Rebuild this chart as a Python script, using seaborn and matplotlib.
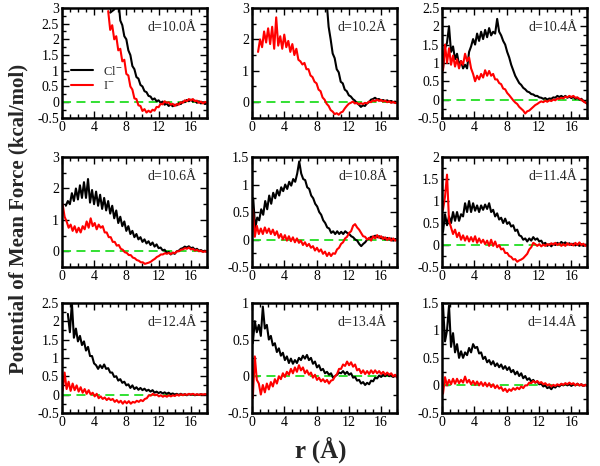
import numpy as np
import matplotlib
matplotlib.use("Agg")
import matplotlib.pyplot as plt
from matplotlib.ticker import MultipleLocator
import seaborn as sns

# PMF curves (kcal/mol), sampled every 0.25 A from the start value up to 18 A
cl_100_start = 6.0
cl_100 = [2.85, 2.9, 2.95, 3.1, 3.3, 2.6, 2.45, 2.1, 2.0, 1.65, 1.5, 1.15, 1.05, 0.8, 0.75, 0.55, 0.5,
          0.35, 0.32, 0.2, 0.18, 0.08, 0.12, 0.03, 0.06, -0.02, 0.02, -0.08, -0.04, -0.12, -0.07, -0.13,
          -0.08, -0.1, -0.03, -0.06, 0.02, 0.0, 0.07, 0.03, 0.08, 0.02, 0.05, -0.02, 0.03, -0.04, 0.0,
          -0.06, -0.03]
i_100_start = 5.75
i_100 = [2.9, 2.3, 2.45, 2.0, 2.1, 1.65, 1.7, 1.3, 1.35, 0.9, 0.85, 0.5, 0.4, 0.12, 0.1, -0.1, -0.12,
         -0.28, -0.22, -0.33, -0.27, -0.32, -0.24, -0.27, -0.15, -0.16, -0.05, -0.07, 0.03, -0.02, 0.0,
         -0.08, -0.05, -0.12, -0.06, -0.08, 0.0, -0.02, 0.06, 0.03, 0.1, 0.06, 0.1, 0.03, 0.05, -0.02,
         0.02, -0.04, 0.01, -0.02]

cl_102_start = 9.0
cl_102 = [3.5, 3.2, 2.4, 2.0, 1.55, 1.4, 1.05, 0.95, 0.65, 0.6, 0.4, 0.35, 0.22, 0.18, 0.1, 0.05, -0.03,
          -0.08, -0.15, -0.1, -0.12, -0.04, 0.0, 0.08, 0.1, 0.14, 0.09, 0.1, 0.05, 0.07, 0.03, 0.06, 0.02,
          0.04, 0.0, 0.02, -0.02]
i_102_start = 0.75
i_102 = [1.6, 2.0, 1.75, 2.25, 1.9, 2.35, 1.85, 2.4, 1.7, 2.7, 1.8, 2.1, 1.7, 2.15, 1.75, 1.95, 1.6,
         1.85, 1.5, 1.7, 1.35, 1.3, 1.2, 1.25, 1.05, 1.05, 0.85, 0.8, 0.65, 0.6, 0.4, 0.35, 0.15, 0.08,
         -0.05, -0.12, -0.25, -0.3, -0.38, -0.35, -0.4, -0.33, -0.3, -0.2, -0.12, -0.05, -0.02, 0.02,
         -0.04, -0.02, -0.07, -0.03, -0.06, -0.02, -0.04, 0.02, 0.0, 0.06, 0.03, 0.08, 0.04, 0.07, 0.02,
         0.05, 0.0, 0.03, -0.02, 0.01, -0.03, -0.01]

cl_104_start = 0.1
cl_104 = [0.85, 1.4, 1.55, 2.0, 1.3, 1.45, 1.1, 1.25, 0.95, 1.05, 0.85, 0.95, 0.85, 1.3, 1.45, 1.65,
          1.5, 1.8, 1.6, 1.85, 1.65, 1.9, 1.7, 1.95, 1.75, 1.85, 1.8, 2.2, 1.85, 1.75, 1.6, 1.5, 1.3,
          1.15, 0.95, 0.8, 0.65, 0.55, 0.45, 0.4, 0.32, 0.28, 0.22, 0.2, 0.15, 0.14, 0.1, 0.1, 0.06,
          0.05, 0.02, 0.04, 0.0, 0.03, 0.02, 0.06, 0.05, 0.1, 0.07, 0.1, 0.06, 0.1, 0.05, 0.08, 0.04,
          0.07, 0.02, 0.05, 0.0, 0.02, -0.04, -0.08, -0.1]
i_104_start = 0.1
i_104 = [0.8, 1.5, 1.0, 1.4, 0.95, 1.2, 0.9, 1.1, 0.85, 1.05, 0.95, 1.25, 1.05, 1.15, 0.85, 0.7, 0.5,
         0.65, 0.55, 0.7, 0.6, 0.8, 0.65, 0.78, 0.65, 0.7, 0.55, 0.55, 0.45, 0.42, 0.3, 0.28, 0.18,
         0.12, 0.05, -0.02, -0.08, -0.12, -0.2, -0.25, -0.3, -0.38, -0.32, -0.3, -0.25, -0.2, -0.15,
         -0.12, -0.08, -0.05, -0.07, -0.03, -0.06, -0.02, -0.04, 0.0, -0.02, 0.03, 0.02, 0.05, 0.03,
         0.08, 0.06, 0.1, 0.07, 0.1, 0.05, 0.06, 0.02, 0.0, -0.05, -0.08, -0.12]

cl_106_start = 0.5
cl_106 = [1.45, 1.6, 1.5, 1.85, 1.6, 2.0, 1.65, 2.1, 1.7, 2.2, 1.7, 2.3, 1.55, 1.95, 1.5, 1.9, 1.45,
          1.8, 1.35, 1.7, 1.3, 1.6, 1.2, 1.45, 1.05, 1.3, 0.9, 1.1, 0.8, 0.95, 0.65, 0.8, 0.55, 0.65,
          0.45, 0.55, 0.38, 0.45, 0.3, 0.38, 0.25, 0.32, 0.2, 0.28, 0.15, 0.22, 0.1, 0.12, 0.03, 0.05,
          -0.05, -0.02, -0.1, -0.05, -0.08, 0.0, 0.02, 0.08, 0.1, 0.15, 0.12, 0.16, 0.1, 0.12, 0.05,
          0.08, 0.02, 0.04, 0.0, 0.02, -0.02]
i_106_start = 0.1
i_106 = [1.5, 1.1, 0.95, 0.75, 0.85, 0.65, 0.8, 0.6, 0.75, 0.6, 0.8, 0.7, 0.95, 0.75, 1.05, 0.8, 0.9,
         0.7, 0.85, 0.75, 0.8, 0.6, 0.6, 0.45, 0.45, 0.3, 0.3, 0.18, 0.2, 0.08, 0.05, -0.03, -0.05,
         -0.12, -0.12, -0.2, -0.22, -0.28, -0.3, -0.35, -0.35, -0.4, -0.38, -0.36, -0.33, -0.28, -0.24,
         -0.18, -0.15, -0.1, -0.1, -0.06, -0.08, -0.05, -0.09, -0.04, -0.06, 0.0, 0.0, 0.05, 0.06, 0.1,
         0.08, 0.12, 0.06, 0.08, 0.02, 0.05, 0.0, 0.02, -0.02, 0.0, -0.02]

cl_108_start = 0.15
cl_108 = [0.75, 0.2, 0.4, 0.35, 0.55, 0.45, 0.7, 0.55, 0.8, 0.65, 0.85, 0.75, 0.9, 0.8, 0.95, 0.88,
          1.0, 0.92, 1.05, 0.98, 1.1, 1.05, 1.2, 1.42, 1.2, 1.1, 1.08, 0.95, 0.92, 0.8, 0.75, 0.65, 0.6,
          0.5, 0.45, 0.35, 0.3, 0.22, 0.2, 0.12, 0.15, 0.1, 0.15, 0.1, 0.14, 0.1, 0.15, 0.12, 0.1, 0.06,
          0.04, 0.0, -0.02, -0.08, -0.12, -0.08, -0.05, 0.0, 0.02, 0.05, 0.04, 0.07, 0.04, 0.06, 0.02,
          0.04, 0.0, 0.03, 0.0, 0.02, -0.02, 0.01, -0.01]
i_108_start = 0.1
i_108 = [0.55, 0.05, 0.25, 0.1, 0.2, 0.1, 0.22, 0.12, 0.2, 0.1, 0.18, 0.08, 0.15, 0.03, 0.1, 0.0,
         0.08, -0.02, 0.06, -0.03, 0.04, -0.05, 0.02, -0.06, -0.02, -0.1, -0.05, -0.12, -0.08, -0.15,
         -0.12, -0.2, -0.15, -0.22, -0.18, -0.26, -0.22, -0.3, -0.24, -0.3, -0.25, -0.26, -0.18, -0.15,
         -0.08, -0.05, 0.02, 0.05, 0.12, 0.15, 0.25, 0.28, 0.22, 0.18, 0.12, 0.06, 0.05, 0.0, 0.03,
         -0.02, 0.06, 0.02, 0.08, 0.03, 0.06, 0.01, 0.04, -0.01, 0.03, -0.02, 0.02, -0.02, 0.0]

cl_114_start = 0.1
cl_114 = [0.3, 0.7, 0.45, 0.65, 0.5, 0.75, 0.55, 0.75, 0.55, 0.7, 0.65, 0.95, 0.75, 1.0, 0.75, 0.95,
          0.78, 0.9, 0.75, 0.9, 0.8, 0.92, 0.82, 0.95, 0.75, 0.8, 0.65, 0.72, 0.58, 0.62, 0.5, 0.6, 0.48,
          0.52, 0.42, 0.45, 0.32, 0.35, 0.22, 0.2, 0.12, 0.15, 0.08, 0.15, 0.1, 0.18, 0.12, 0.15, 0.08,
          0.1, 0.02, 0.05, -0.02, 0.02, -0.03, 0.03, 0.0, 0.05, 0.02, 0.07, 0.03, 0.06, 0.01, 0.04, 0.0,
          0.03, -0.01, 0.02, -0.02, 0.02, -0.02, 0.01, 0.0]
i_114_start = 0.1
i_114 = [0.8, 1.1, 1.6, 0.55, 0.4, 0.25, 0.35, 0.18, 0.28, 0.12, 0.22, 0.1, 0.2, 0.08, 0.18, 0.08,
         0.2, 0.05, 0.15, 0.05, 0.12, 0.02, 0.1, -0.02, 0.12, -0.02, 0.08, -0.05, 0.0, -0.1, -0.08,
         -0.18, -0.18, -0.25, -0.27, -0.33, -0.32, -0.38, -0.35, -0.33, -0.3, -0.25, -0.2, -0.1, -0.05,
         0.05, 0.02, -0.02, 0.02, -0.03, 0.01, -0.02, 0.02, 0.0, 0.04, 0.01, 0.05, 0.0, 0.03, -0.02,
         0.02, -0.02, 0.04, 0.0, 0.03, -0.01, 0.05, 0.0, 0.06, 0.0, 0.03, -0.02, 0.01]

cl_124_start = 0.75
cl_124 = [2.2, 1.7, 2.5, 1.55, 1.8, 1.45, 1.6, 1.35, 1.45, 1.2, 1.3, 1.05, 1.05, 0.85, 0.8, 0.7, 0.8,
          0.72, 0.82, 0.7, 0.72, 0.6, 0.6, 0.48, 0.5, 0.38, 0.42, 0.32, 0.35, 0.25, 0.28, 0.18, 0.25,
          0.15, 0.2, 0.13, 0.18, 0.12, 0.16, 0.1, 0.13, 0.08, 0.12, 0.05, 0.08, 0.04, 0.07, 0.03, 0.06,
          0.02, 0.05, 0.01, 0.03, 0.0, 0.02, -0.01, 0.02, -0.01, 0.01, -0.02, 0.01, -0.01, 0.01, -0.02,
          0.0, -0.01, 0.01, -0.01, 0.0, 0.0]
i_124_start = 0.1
i_124 = [0.1, 0.6, 0.15, 0.35, 0.1, 0.3, 0.12, 0.25, 0.08, 0.2, 0.05, 0.15, 0.02, 0.12, 0.0, 0.05,
         -0.05, 0.02, -0.1, -0.05, -0.12, -0.08, -0.15, -0.1, -0.15, -0.12, -0.2, -0.15, -0.22, -0.17,
         -0.25, -0.18, -0.24, -0.18, -0.25, -0.2, -0.22, -0.17, -0.2, -0.15, -0.18, -0.12, -0.1, -0.02,
         -0.03, 0.02, -0.02, 0.0, -0.05, -0.02, -0.06, -0.03, -0.06, -0.02, -0.05, -0.02, -0.04, 0.0,
         -0.03, 0.01, -0.02, 0.01, -0.01, 0.02, 0.0, 0.02, -0.01, 0.01, -0.01, 0.01, 0.0, 0.01, 0.0]

cl_134_start = 0.1
cl_134 = [0.45, 0.75, 0.6, 0.7, 0.55, 0.95, 0.65, 0.7, 0.5, 0.55, 0.42, 0.45, 0.33, 0.38, 0.28, 0.32,
          0.22, 0.27, 0.18, 0.24, 0.17, 0.22, 0.18, 0.25, 0.22, 0.28, 0.24, 0.29, 0.22, 0.25, 0.17, 0.2,
          0.12, 0.15, 0.08, 0.1, 0.04, 0.06, 0.02, 0.04, -0.02, 0.0, 0.02, 0.05, 0.04, 0.07, 0.03, 0.06,
          0.02, 0.04, -0.02, -0.01, -0.06, -0.05, -0.1, -0.08, -0.12, -0.09, -0.11, -0.06, -0.07, -0.02,
          -0.03, 0.01, -0.01, 0.02, 0.0, 0.03, 0.0, 0.02, -0.01, 0.01, 0.0]
i_134_start = 0.1
i_134 = [-0.3, 0.27, -0.05, -0.1, -0.25, -0.12, -0.22, -0.1, -0.18, -0.08, -0.14, -0.04, -0.1, 0.0,
         -0.04, 0.04, -0.01, 0.06, 0.02, 0.1, 0.04, 0.12, 0.06, 0.15, 0.08, 0.12, 0.04, 0.08, 0.02, 0.05,
         -0.02, 0.02, -0.05, -0.02, -0.07, -0.04, -0.08, -0.05, -0.1, -0.06, -0.05, 0.0, 0.03, 0.1, 0.1,
         0.16, 0.14, 0.2, 0.15, 0.19, 0.13, 0.16, 0.08, 0.1, 0.04, 0.08, 0.03, 0.07, 0.03, 0.08, 0.04,
         0.08, 0.04, 0.07, 0.03, 0.06, 0.02, 0.05, 0.02, 0.04, 0.0, 0.02, -0.02]

cl_144_start = 0.1
cl_144 = [1.45, 0.8, 1.0, 1.45, 0.7, 0.95, 0.6, 0.75, 0.5, 0.62, 0.5, 0.6, 0.55, 0.68, 0.6, 0.75, 0.68,
          0.7, 0.58, 0.6, 0.48, 0.52, 0.42, 0.46, 0.38, 0.44, 0.35, 0.4, 0.33, 0.38, 0.3, 0.35, 0.28,
          0.33, 0.24, 0.28, 0.2, 0.25, 0.17, 0.22, 0.13, 0.17, 0.1, 0.13, 0.07, 0.1, 0.05, 0.07, 0.02,
          0.03, -0.02, 0.0, -0.05, -0.03, -0.07, -0.02, -0.04, 0.0, -0.02, 0.02, 0.0, 0.03, 0.0, 0.02,
          -0.01, 0.02, 0.0, 0.03, 0.0, 0.02, -0.01, 0.01, -0.01]
i_144_start = 0.1
i_144 = [-0.15, 0.15, 0.0, 0.1, 0.02, 0.12, 0.03, 0.12, 0.04, 0.1, 0.05, 0.16, 0.05, 0.1, 0.02, 0.08,
         0.01, 0.07, 0.0, 0.06, -0.01, 0.05, -0.02, 0.04, -0.03, 0.02, -0.05, 0.0, -0.06, -0.03, -0.1,
         -0.06, -0.12, -0.07, -0.1, -0.05, -0.08, -0.04, -0.07, -0.02, -0.05, 0.0, 0.0, 0.05, 0.04, 0.08,
         0.05, 0.08, 0.04, 0.06, 0.02, 0.04, 0.0, 0.02, -0.02, 0.01, -0.01, 0.02, 0.0, 0.03, 0.01, 0.04,
         0.02, 0.05, 0.02, 0.04, 0.0, 0.03, 0.0, 0.02, -0.01, 0.01, -0.01]

labels = ["d=10.0Å", "d=10.2Å", "d=10.4Å", "d=10.6Å", "d=10.8Å",
          "d=11.4Å", "d=12.4Å", "d=13.4Å", "d=14.4Å"]
ytops = [3, 3, 2.5, 3, 1.5, 2, 2.5, 1, 1.5]
ysteps = [0.5, 1, 0.5, 1, 0.5, 0.5, 0.5, 0.5, 0.5]

panels = [
    ((cl_100_start, cl_100), (i_100_start, i_100)),
    ((cl_102_start, cl_102), (i_102_start, i_102)),
    ((cl_104_start, cl_104), (i_104_start, i_104)),
    ((cl_106_start, cl_106), (i_106_start, i_106)),
    ((cl_108_start, cl_108), (i_108_start, i_108)),
    ((cl_114_start, cl_114), (i_114_start, i_114)),
    ((cl_124_start, cl_124), (i_124_start, i_124)),
    ((cl_134_start, cl_134), (i_134_start, i_134)),
    ((cl_144_start, cl_144), (i_144_start, i_144)),
]

sns.set_theme(style="ticks")
plt.rcParams["font.family"] = ["Liberation Serif", "DejaVu Serif"]
plt.rcParams["mathtext.fontset"] = "stix"

fig = plt.figure(figsize=(6.0, 4.66), dpi=100)
lefts = [0.103, 0.42, 0.737]
bottoms = [0.747, 0.427, 0.114]
w, h = 0.242, 0.236

for k, (cl, io) in enumerate(panels):
    row, col = divmod(k, 3)
    ax = fig.add_axes([lefts[col], bottoms[row], w, h])
    ax.axhline(0, color="#22dd22", lw=1.3, ls=(0, (5, 3)), zorder=1)
    r_cl = np.linspace(cl[0], 18, len(cl[1]))
    r_i = np.linspace(io[0], 18, len(io[1]))
    sns.lineplot(x=r_cl, y=cl[1], ax=ax, color="black", lw=1.5, label="Cl$^{-}$", estimator=None)
    sns.lineplot(x=r_i, y=io[1], ax=ax, color="red", lw=1.5, label="I$^{-}$", estimator=None)

    ax.xaxis.set_major_locator(MultipleLocator(4))
    ax.xaxis.set_minor_locator(MultipleLocator(1))
    if ysteps[k] == 1:
        ax.set_yticks(np.arange(0, ytops[k] + 0.01, 1))
        ax.set_yticks(np.arange(-0.5, ytops[k] + 0.01, 0.5), minor=True)
    else:
        ax.set_yticks(np.arange(-0.5, ytops[k] + 0.01, 0.5))
        ax.set_yticks(np.arange(-0.5, ytops[k] + 0.01, 0.25), minor=True)
    ax.yaxis.set_major_formatter(matplotlib.ticker.FormatStrFormatter("%g"))
    ax.set_xlim(0, 18)
    ax.set_ylim(-0.5, ytops[k])
    ax.tick_params(which="both", direction="in", top=True, right=True, labelsize=10, pad=2,
                   color="black", labelcolor="black")
    ax.tick_params(which="major", length=5, width=1)
    ax.tick_params(which="minor", length=3, width=1)
    for s in ax.spines.values():
        s.set_linewidth(1.8)
        s.set_color("black")
    ax.set_xlabel("")
    ax.set_ylabel("")
    ax.text(0.93, 0.82, labels[k], transform=ax.transAxes, ha="right", va="center", fontsize=10)
    if k == 0:
        ax.legend(loc="center left", bbox_to_anchor=(0.0, 0.36), frameon=False, fontsize=9,
                  handlelength=1.8, labelspacing=0.2, borderpad=0.2)
    else:
        ax.get_legend().remove()

fig.text(0.03, 0.53, "Potential of Mean Force (kcal/mol)", rotation=90, ha="center", va="center",
         fontsize=15, fontweight="bold")
fig.text(0.535, 0.035, "r (Å)", ha="center", va="center", fontsize=18, fontweight="bold")

fig.savefig("out.png", dpi=100)
